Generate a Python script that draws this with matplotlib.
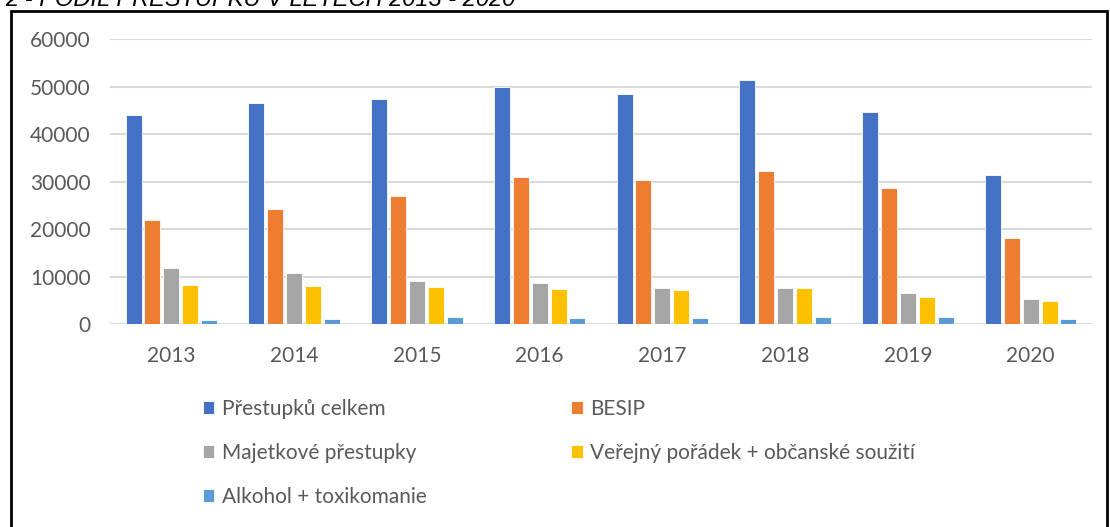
import matplotlib.pyplot as plt
import matplotlib.patches as mpatches
import numpy as np

# údaje
roky = ['2013', '2014', '2015', '2016', '2017', '2018', '2019', '2020']
celkem = [44000, 46500, 47500, 50000, 48400, 51350, 44600, 31300]
besip = [21850, 24250, 27000, 31000, 30300, 32150, 28600, 18100]
majetkove = [11800, 10750, 9100, 8600, 7500, 7500, 6450, 5300]
verejny = [8250, 8050, 7750, 7450, 7200, 7500, 5650, 4800]
alkohol = [750, 1000, 1500, 1250, 1250, 1500, 1550, 950]

nazvy = ['Přestupků celkem', 'BESIP', 'Majetkové přestupky',
         'Veřejný pořádek + občanské soužití', 'Alkohol + toxikomanie']
barvy = ['#4472C4', '#ED7D31', '#A5A5A5', '#FFC000', '#5B9BD5']
serie = [celkem, besip, majetkove, verejny, alkohol]

plt.rcParams['font.family'] = ['Lato', 'DejaVu Sans']
text_col = '#595959'

W, H = 1110, 527
fig = plt.figure(figsize=(W / 100, H / 100), dpi=100)
ax = fig.add_axes([110 / W, (H - 324) / H, 982 / W, (324 - 39.3) / H])

x = np.arange(len(roky))
pitch = 0.154
bw = 0.13
handles = []
for i, (vals, c, n) in enumerate(zip(serie, barvy, nazvy)):
    b = ax.bar(x + (i - 2) * pitch, vals, width=bw, color=c, label=n,
               edgecolor='white', linewidth=0.6, zorder=3)
    handles.append(b)

ax.set_xlim(-0.5, len(roky) - 0.5)
ax.set_ylim(0, 60000)
ax.set_yticks(range(0, 60001, 10000))
ax.set_xticks(x)
ax.set_xticklabels(roky)
ax.grid(axis='y', color='#D9D9D9', linewidth=1.5, zorder=0)
for s in ax.spines.values():
    s.set_visible(False)
ax.tick_params(axis='both', length=0, labelsize=15, labelcolor=text_col)
ax.tick_params(axis='y', pad=14)
ax.tick_params(axis='x', pad=16)

# legenda: 2 sloupce, plnění po sloupcích
poradi = [0, 2, 4, 1, 3]
leg = fig.legend([handles[i] for i in poradi], [nazvy[i] for i in poradi],
                 ncol=2, loc='upper left',
                 bbox_to_anchor=(203 / W, 1 - 399 / H),
                 frameon=False, fontsize=15, handlelength=0.55,
                 handleheight=0.55, handletextpad=0.35, labelspacing=1.15,
                 columnspacing=6.95, borderpad=0, borderaxespad=0)
for t in leg.get_texts():
    t.set_color(text_col)

# oříznutý nadpis nahoře
fig.text(5 / W, 1 - 6 / H, '2 - PODÍL PŘESTUPKŮ V LETECH 2013 - 2020',
         fontsize=17, style='italic', family=['Liberation Sans', 'DejaVu Sans'],
         va='baseline', ha='left', color='black')

# rámeček
fig.patches.append(mpatches.Rectangle((10.5 / W, -0.05), (1107 - 10.5) / W,
                                      1.05 - 11 / H, transform=fig.transFigure,
                                      fill=False, edgecolor='black', linewidth=2))

fig.savefig('out.png', dpi=100)
